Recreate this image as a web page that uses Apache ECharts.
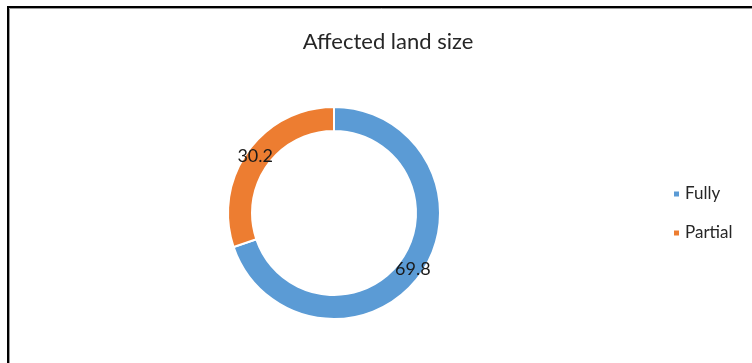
<!DOCTYPE html>
<html>
<head>
<meta charset="utf-8">
<script src="https://cdn.jsdelivr.net/npm/echarts@6/dist/echarts.min.js"></script>
<style>
  html, body { margin: 0; padding: 0; background: #fff; }
  #chart { width: 752px; height: 363px; }
</style>
</head>
<body>
<div id="chart"></div>
<script>
// Share of affected land, by damage extent (%)
const categories = ['Fully', 'Partial'];
const shares = [69.8, 30.2];
const sliceColors = ['#5B9BD5', '#ED7D31'];
const chartTitle = 'Affected land size';

const FONT = 'Lato';

const chart = echarts.init(document.getElementById('chart'), null, { renderer: 'canvas' });

chart.setOption({
  backgroundColor: '#ffffff',
  animation: false,
  color: sliceColors,
  title: {
    text: chartTitle,
    left: 383,
    top: 26,
    textAlign: 'center',
    textStyle: { fontFamily: FONT, fontSize: 22, fontWeight: 'normal', color: '#262626' }
  },
  legend: {
    orient: 'vertical',
    left: 672,
    top: 184,
    padding: 0,
    icon: 'rect',
    itemWidth: 7,
    itemHeight: 7,
    itemGap: 19,
    textStyle: { fontFamily: FONT, fontSize: 17, color: '#262626', lineHeight: 20 },
    data: categories
  },
  graphic: [
    {
      type: 'rect',
      silent: true,
      shape: { x: 8, y: 7, width: 800, height: 400 },
      style: { fill: 'none', stroke: '#000', lineWidth: 2 }
    },
    {
      type: 'rect',
      silent: true,
      shape: { x: 9.5, y: 8.5, width: 800, height: 400 },
      style: { fill: 'none', stroke: '#9a9a9a', lineWidth: 1 }
    }
  ],
  series: [{
    type: 'pie',
    center: [334, 213],
    radius: [82, 106],
    startAngle: 90,
    clockwise: true,
    avoidLabelOverlap: false,
    itemStyle: { borderColor: '#ffffff', borderWidth: 2 },
    label: {
      show: true,
      position: 'inside',
      formatter: p => p.value.toFixed(1),
      fontFamily: FONT,
      fontSize: 18,
      color: '#1a1a1a'
    },
    labelLine: { show: false },
    emphasis: { disabled: true },
    data: categories.map((name, i) => ({ name, value: shares[i] }))
  }]
});
</script>
</body>
</html>
